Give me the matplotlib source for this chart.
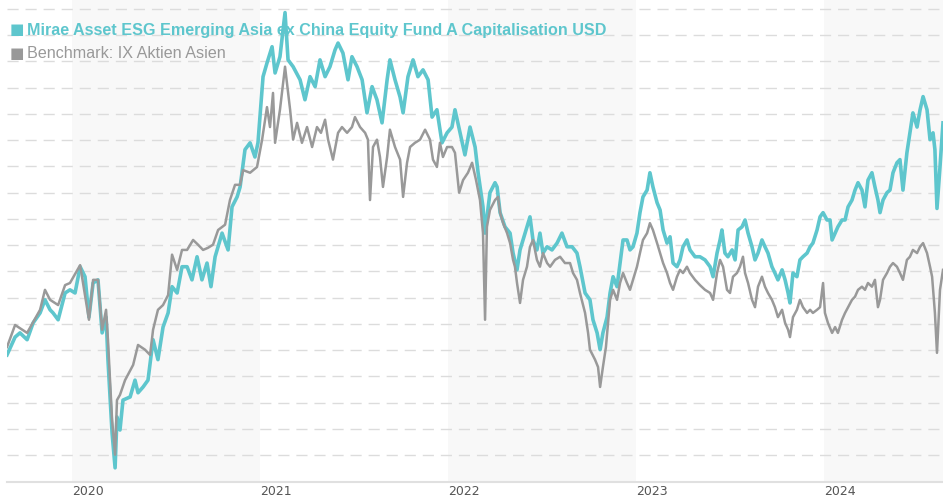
import numpy as np
import matplotlib
matplotlib.use("Agg")
from matplotlib import pyplot as plt

# time in decimal years, values as index levels
fund_t = [2019.654, 2019.697, 2019.723, 2019.761, 2019.793, 2019.830, 2019.856, 2019.883, 2019.899, 2019.926,
          2019.963, 2019.989, 2020.016, 2020.043, 2020.069, 2020.090, 2020.112, 2020.138, 2020.160, 2020.181,
          2020.191, 2020.213, 2020.229, 2020.239, 2020.255, 2020.271, 2020.309, 2020.335, 2020.351, 2020.378,
          2020.404, 2020.431, 2020.457, 2020.484, 2020.511, 2020.532, 2020.559, 2020.585, 2020.612, 2020.638,
          2020.665, 2020.691, 2020.718, 2020.739, 2020.761, 2020.798, 2020.830, 2020.851, 2020.878, 2020.894,
          2020.920, 2020.947, 2020.973, 2020.989, 2021.016, 2021.037, 2021.064, 2021.080, 2021.106, 2021.133,
          2021.149, 2021.176, 2021.213, 2021.239, 2021.266, 2021.293, 2021.319, 2021.346, 2021.372, 2021.399,
          2021.415, 2021.441, 2021.468, 2021.489, 2021.516, 2021.543, 2021.569, 2021.596, 2021.622, 2021.649,
          2021.676, 2021.691, 2021.718, 2021.745, 2021.761, 2021.787, 2021.814, 2021.840, 2021.867, 2021.894,
          2021.915, 2021.941, 2021.968, 2021.995, 2022.021, 2022.037, 2022.064, 2022.090, 2022.117, 2022.144,
          2022.160, 2022.186, 2022.197, 2022.223, 2022.250, 2022.261, 2022.277, 2022.303, 2022.330, 2022.346,
          2022.367, 2022.383, 2022.410, 2022.436, 2022.452, 2022.473, 2022.489, 2022.505, 2022.527, 2022.553,
          2022.580, 2022.606, 2022.633, 2022.660, 2022.686, 2022.702, 2022.729, 2022.755, 2022.771, 2022.793,
          2022.809, 2022.824, 2022.846, 2022.862, 2022.878, 2022.899, 2022.915, 2022.931, 2022.952, 2022.968,
          2022.984, 2023.005, 2023.021, 2023.037, 2023.059, 2023.074, 2023.090, 2023.112, 2023.128, 2023.144,
          2023.165, 2023.181, 2023.197, 2023.218, 2023.234, 2023.250, 2023.271, 2023.287, 2023.314, 2023.340,
          2023.367, 2023.394, 2023.410, 2023.431, 2023.447, 2023.457, 2023.473, 2023.489, 2023.511, 2023.527,
          2023.543, 2023.564, 2023.580, 2023.596, 2023.617, 2023.633, 2023.649, 2023.670, 2023.686, 2023.702,
          2023.723, 2023.739, 2023.755, 2023.777, 2023.793, 2023.809, 2023.819, 2023.835, 2023.856, 2023.872,
          2023.888, 2023.910, 2023.926, 2023.941, 2023.963, 2023.979, 2023.995, 2024.016, 2024.032, 2024.043,
          2024.059, 2024.074, 2024.096, 2024.112, 2024.128, 2024.149, 2024.165, 2024.181, 2024.202, 2024.218,
          2024.234, 2024.255, 2024.271, 2024.287, 2024.298, 2024.314, 2024.335, 2024.351, 2024.367, 2024.388,
          2024.404, 2024.420, 2024.441, 2024.457, 2024.473, 2024.495, 2024.511, 2024.527, 2024.548, 2024.564,
          2024.580, 2024.590, 2024.601, 2024.617, 2024.633]
fund_v = [94.1, 97.5, 98.3, 97.0, 100.2, 102.1, 104.6, 102.7, 102.1, 100.8,
          105.9, 106.5, 105.9, 110.9, 109.0, 101.3, 107.8, 108.4, 98.3, 101.3,
          93.2, 79.2, 72.6, 82.3, 79.8, 85.5, 86.1, 89.3, 86.9, 88.0,
          89.3, 97.0, 93.2, 99.4, 102.1, 107.1, 105.9, 110.9, 110.9, 108.4,
          112.8, 108.4, 111.6, 107.1, 112.8, 117.3, 114.1, 122.3, 124.2, 126.1,
          133.2, 134.5, 131.8, 134.5, 147.1, 149.7, 152.8, 147.8, 150.9, 159.3,
          150.3, 149.0, 146.5, 142.7, 147.1, 145.2, 150.3, 147.1, 149.0, 152.2,
          153.5, 151.6, 146.5, 150.9, 149.0, 146.5, 140.2, 145.2, 142.7, 138.3,
          146.5, 150.3, 146.5, 143.2, 140.2, 147.1, 150.3, 147.1, 148.4, 146.5,
          139.4, 140.8, 134.5, 136.4, 137.5, 140.8, 136.4, 132.2, 137.5, 133.7,
          128.8, 122.3, 117.3, 125.0, 126.9, 126.1, 121.2, 118.5, 117.3, 113.5,
          110.3, 114.1, 117.3, 120.4, 116.0, 114.1, 117.3, 113.5, 114.7, 114.1,
          115.4, 117.3, 114.7, 114.7, 113.5, 110.9, 105.9, 104.6, 100.8, 98.3,
          95.1, 98.3, 101.3, 105.9, 109.0, 107.1, 111.6, 116.0, 116.0, 114.1,
          114.7, 117.3, 121.2, 124.2, 125.5, 128.8, 126.1, 123.1, 121.7, 117.9,
          115.4, 116.6, 111.6, 110.9, 112.2, 114.7, 116.0, 114.1, 112.8, 112.8,
          112.2, 110.9, 109.0, 113.5, 116.0, 117.9, 113.5, 112.8, 114.1, 112.2,
          117.9, 118.5, 119.8, 117.3, 114.7, 112.2, 113.5, 116.0, 114.7, 113.5,
          110.9, 109.7, 108.4, 110.3, 108.4, 105.9, 104.0, 109.7, 109.0, 112.2,
          112.8, 113.5, 114.7, 115.4, 117.9, 120.4, 121.2, 119.8, 119.8, 116.0,
          117.3, 118.5, 119.8, 119.8, 122.3, 123.6, 125.5, 126.9, 125.5, 122.3,
          127.4, 128.8, 126.1, 123.6, 121.2, 123.6, 125.0, 125.5, 128.8, 130.7,
          131.3, 125.5, 132.6, 136.4, 140.2, 137.5, 140.8, 143.3, 140.8, 135.1,
          136.4, 133.2, 122.0, 129.9, 138.3]

bench_t = [2019.654, 2019.697, 2019.761, 2019.830, 2019.856, 2019.883, 2019.926, 2019.963, 2019.989, 2020.043,
           2020.090, 2020.112, 2020.138, 2020.160, 2020.181, 2020.191, 2020.213, 2020.229, 2020.239, 2020.255,
           2020.282, 2020.325, 2020.351, 2020.388, 2020.415, 2020.431, 2020.457, 2020.484, 2020.511, 2020.532,
           2020.559, 2020.585, 2020.612, 2020.644, 2020.670, 2020.697, 2020.723, 2020.750, 2020.777, 2020.814,
           2020.840, 2020.867, 2020.894, 2020.910, 2020.947, 2020.984, 2021.011, 2021.037, 2021.053, 2021.069,
           2021.080, 2021.106, 2021.133, 2021.160, 2021.176, 2021.197, 2021.223, 2021.250, 2021.277, 2021.303,
           2021.324, 2021.346, 2021.362, 2021.388, 2021.415, 2021.436, 2021.463, 2021.489, 2021.505, 2021.532,
           2021.559, 2021.574, 2021.585, 2021.601, 2021.622, 2021.638, 2021.654, 2021.676, 2021.691, 2021.718,
           2021.745, 2021.761, 2021.782, 2021.798, 2021.824, 2021.851, 2021.878, 2021.904, 2021.920, 2021.941,
           2021.957, 2021.973, 2021.995, 2022.021, 2022.037, 2022.059, 2022.080, 2022.106, 2022.128, 2022.149,
           2022.170, 2022.186, 2022.197, 2022.207, 2022.223, 2022.250, 2022.266, 2022.277, 2022.293, 2022.314,
           2022.330, 2022.346, 2022.356, 2022.367, 2022.383, 2022.399, 2022.420, 2022.436, 2022.452, 2022.473,
           2022.489, 2022.505, 2022.527, 2022.543, 2022.569, 2022.596, 2022.622, 2022.649, 2022.665, 2022.686,
           2022.702, 2022.729, 2022.745, 2022.755, 2022.782, 2022.798, 2022.809, 2022.824, 2022.840, 2022.862,
           2022.878, 2022.899, 2022.915, 2022.931, 2022.952, 2022.968, 2022.984, 2023.005, 2023.021, 2023.037,
           2023.059, 2023.074, 2023.090, 2023.112, 2023.128, 2023.144, 2023.165, 2023.181, 2023.197, 2023.218,
           2023.234, 2023.250, 2023.271, 2023.287, 2023.314, 2023.340, 2023.367, 2023.394, 2023.410, 2023.431,
           2023.447, 2023.463, 2023.484, 2023.500, 2023.516, 2023.537, 2023.553, 2023.569, 2023.580, 2023.596,
           2023.617, 2023.633, 2023.649, 2023.670, 2023.686, 2023.702, 2023.723, 2023.739, 2023.755, 2023.777,
           2023.793, 2023.809, 2023.819, 2023.835, 2023.856, 2023.872, 2023.888, 2023.910, 2023.926, 2023.941,
           2023.963, 2023.979, 2023.995, 2024.005, 2024.021, 2024.043, 2024.059, 2024.074, 2024.096, 2024.112,
           2024.128, 2024.149, 2024.165, 2024.181, 2024.202, 2024.218, 2024.234, 2024.255, 2024.271, 2024.287,
           2024.298, 2024.314, 2024.335, 2024.351, 2024.367, 2024.388, 2024.404, 2024.420, 2024.441, 2024.457,
           2024.473, 2024.495, 2024.511, 2024.527, 2024.548, 2024.564, 2024.575, 2024.590, 2024.601, 2024.617,
           2024.633]
bench_v = [95.6, 99.8, 98.3, 102.7, 106.5, 104.6, 103.6, 107.4, 107.8, 111.2,
           100.8, 108.4, 108.4, 98.9, 102.7, 97.0, 81.7, 75.1, 85.5, 86.5,
           89.3, 92.2, 96.0, 95.1, 94.1, 98.9, 102.7, 103.6, 105.5, 113.2,
           110.3, 114.1, 114.1, 116.0, 115.1, 114.1, 114.5, 115.1, 117.9, 118.9,
           123.6, 126.5, 126.5, 129.3, 128.8, 129.9, 135.1, 141.3, 137.5, 144.0,
           134.5, 140.8, 149.0, 140.8, 135.1, 138.3, 134.5, 137.5, 133.7, 137.5,
           136.4, 138.9, 135.1, 131.3, 136.4, 137.5, 136.4, 137.5, 139.4, 137.5,
           136.4, 135.1, 123.6, 133.7, 135.1, 131.8, 126.1, 131.8, 137.0, 133.7,
           131.3, 124.2, 130.7, 133.7, 134.5, 135.1, 137.0, 135.1, 131.3, 129.9,
           134.5, 131.8, 133.7, 133.7, 132.6, 125.0, 127.4, 128.8, 130.7, 127.4,
           123.6, 117.3, 100.8, 118.5, 121.7, 123.6, 124.2, 121.2, 119.2, 117.3,
           115.4, 112.2, 110.9, 107.8, 104.0, 108.4, 110.9, 114.7, 116.0, 112.2,
           110.9, 113.5, 111.6, 110.9, 112.2, 112.8, 111.6, 111.6, 109.7, 108.4,
           105.9, 102.1, 98.3, 95.1, 93.2, 91.8, 88.0, 91.8, 95.6, 104.6,
           106.5, 104.6, 107.8, 109.7, 107.8, 106.5, 108.4, 110.9, 113.5, 116.0,
           117.3, 119.2, 117.9, 115.4, 113.5, 111.6, 109.7, 107.8, 106.5, 109.0,
           110.3, 109.7, 110.9, 109.7, 108.4, 107.4, 106.5, 105.9, 104.6, 109.7,
           112.2, 110.9, 106.5, 105.9, 109.0, 109.7, 110.9, 112.8, 109.7, 107.8,
           104.6, 103.2, 107.1, 109.0, 107.1, 105.9, 104.6, 103.2, 101.3, 102.7,
           100.2, 98.9, 97.5, 101.3, 102.7, 104.6, 103.2, 102.1, 102.7, 102.1,
           102.7, 103.2, 107.8, 102.1, 100.2, 98.3, 99.4, 98.3, 100.8, 102.1,
           103.2, 104.6, 105.2, 106.5, 107.1, 106.5, 107.8, 107.1, 108.4, 103.2,
           104.6, 108.4, 109.7, 110.9, 111.6, 110.9, 109.7, 108.4, 112.2, 112.8,
           114.1, 113.5, 114.7, 115.4, 113.5, 110.9, 109.0, 102.1, 94.5, 106.5,
           110.3]

years = [2020, 2021, 2022, 2023, 2024]
shaded_years = [2020, 2022, 2024]
fund_name = "Mirae Asset ESG Emerging Asia ex China Equity Fund A Capitalisation USD"
bench_name = "Benchmark: IX Aktien Asien"

teal = "#5ec6cd"
grey = "#999999"

fig = plt.figure(figsize=(9.43, 5.0), dpi=100)
ax = fig.add_axes([7 / 943, 18 / 500, 936 / 943, 482 / 500])

ax.set_xlim(2019.654, 2024.633)
ax.set_ylim(69.9, 161.7)

for yr in shaded_years:
    ax.axvspan(yr, yr + 1, color="#f8f8f8", lw=0, zorder=0)

for g in np.arange(75, 161, 5):
    ax.axhline(g, color="#dcdcdc", lw=1.0, dashes=(8, 5), zorder=1)

ax.plot(fund_t, fund_v, color=teal, lw=2.6, zorder=3, solid_joinstyle="round")
ax.plot(bench_t, bench_v, color=grey, lw=1.8, zorder=4, solid_joinstyle="round")

for s in ["top", "right", "left"]:
    ax.spines[s].set_visible(False)
ax.spines["bottom"].set_color("#e0e0e0")
ax.spines["bottom"].set_linewidth(1.5)
ax.set_yticks([])
ax.set_xticks(years)
ax.set_xticklabels([str(y) for y in years], ha="left", fontsize=9,
                   color="#555555", family="DejaVu Sans")
ax.tick_params(axis="x", length=0, pad=2)

# legend text in the top left
fig.text(10 / 943, 1 - 30 / 500, "\u25a0", color=teal, fontsize=11,
         family="DejaVu Sans", va="center", ha="left")
fig.text(27 / 943, 1 - 30 / 500, fund_name, color=teal, fontsize=11.6,
         fontweight="bold", family="Liberation Sans", va="center", ha="left")
fig.text(10 / 943, 1 - 53 / 500, "\u25a0", color=grey, fontsize=11,
         family="DejaVu Sans", va="center", ha="left")
fig.text(27 / 943, 1 - 53 / 500, bench_name, color=grey, fontsize=11.6,
         family="Liberation Sans", va="center", ha="left")

fig.savefig("out.png", dpi=100, facecolor="white")
